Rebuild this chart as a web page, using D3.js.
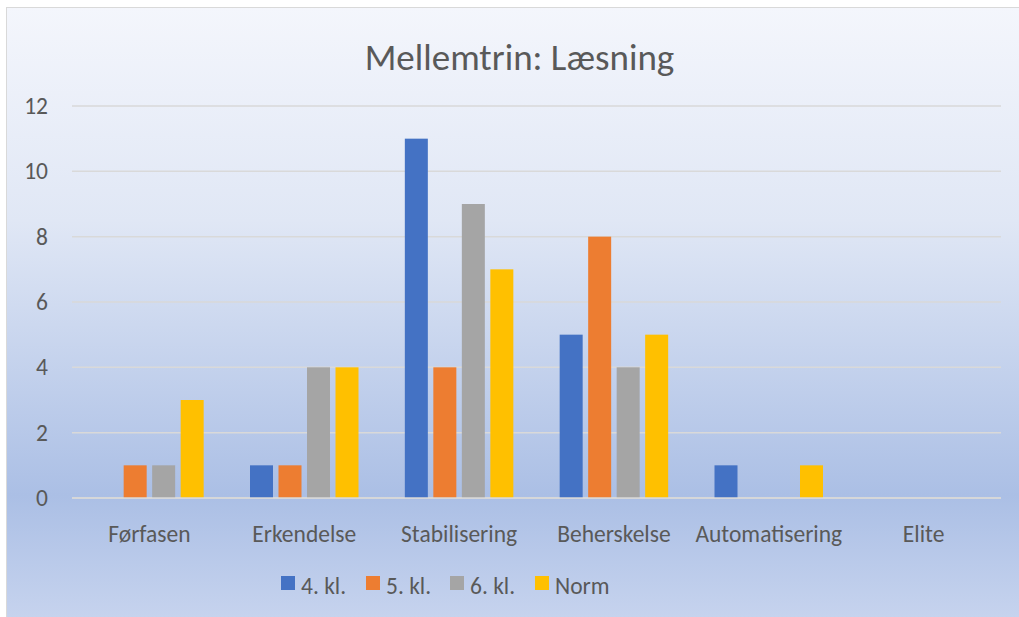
<!DOCTYPE html>
<html><head><meta charset="utf-8">
<script src="https://cdn.jsdelivr.net/npm/d3@7"></script>
<style>html,body{margin:0;padding:0;background:#fff;}svg{display:block;}</style>
</head><body>
<svg id="c" width="1019" height="617"></svg>
<script>
const categories = ["Førfasen","Erkendelse","Stabilisering","Beherskelse","Automatisering","Elite"];
const seriesNames = ["4. kl.","5. kl.","6. kl.","Norm"];
const kl4 = [0,1,11,5,1,0];
const kl5 = [1,1,4,8,0,0];
const kl6 = [1,4,9,4,0,0];
const norm = [3,4,7,5,1,0];
const colors = ["#4472c4","#ed7d31","#a5a5a5","#ffc000"];
const yTicks = [0,2,4,6,8,10,12];
const chartTitle = "Mellemtrin: Læsning";
const seriesValues = [kl4,kl5,kl6,norm];

(function(){
const svg = d3.select("#c");
const W = 1019, H = 617;
const defs = svg.append("defs");
const g = defs.append("linearGradient").attr("id","bg").attr("x1",0).attr("y1",0).attr("x2",0).attr("y2",1);
[[0,"#f4f6fc"],[0.35,"#e0e7f5"],[0.8,"#abbfe5"],[1,"#c6d3ee"]].forEach(s=>g.append("stop").attr("offset",s[0]).attr("stop-color",s[1]));
svg.append("rect").attr("x",6.5).attr("y",7.5).attr("width",W-6).attr("height",H-7).attr("fill","url(#bg)").attr("stroke","#d9d9d9").attr("stroke-width",1);

const font = "Calibri, Carlito, 'Open Sans', sans-serif";
const fs = 23.5;
const pL = 72, pR = 1001, pT = 106, pB = 498;
const y = d3.scaleLinear().domain([0,12]).range([pB, pT]);
const x0 = d3.scaleBand().domain(categories).range([pL, pR]).paddingInner(0).paddingOuter(0);
const groupW = 108.5;
const x1 = d3.scaleBand().domain(seriesNames).range([0, groupW]).paddingInner(0.193).paddingOuter(0);
const off = (x0.bandwidth() - groupW)/2;

svg.append("g").selectAll("line").data(yTicks).join("line")
  .attr("x1",pL).attr("x2",pR).attr("y1",d=>y(d)).attr("y2",d=>y(d))
  .attr("stroke","#d9d9d9").attr("stroke-width",1.5);

const yAxis = d3.axisLeft(y).tickValues(yTicks).tickSize(0).tickPadding(0);
const ya = svg.append("g").attr("transform",`translate(48,0)`).call(yAxis);
ya.select(".domain").remove();
ya.selectAll("text").attr("font-family",font).attr("font-size",fs).attr("fill","#595959");

const rows = [];
categories.forEach((c,i)=>seriesNames.forEach((s,j)=>rows.push({c,s,v:seriesValues[j][i],col:colors[j]})));
svg.append("g").selectAll("rect").data(rows.filter(d=>d.v>0)).join("rect")
  .attr("x",d=>x0(d.c)+off+x1(d.s)).attr("width",x1.bandwidth())
  .attr("y",d=>y(d.v)).attr("height",d=>y(0)-y(d.v)).attr("fill",d=>d.col);

svg.append("line").attr("x1",pL).attr("x2",pR).attr("y1",y(0)).attr("y2",y(0)).attr("stroke","#d9d9d9").attr("stroke-width",1.5);

const xAxis = d3.axisBottom(x0).tickSize(0).tickPadding(0);
const xa = svg.append("g").attr("transform",`translate(0,542)`).call(xAxis);
xa.select(".domain").remove();
xa.selectAll("text").attr("font-family",font).attr("font-size",fs).attr("fill","#595959").attr("dy",0);

svg.append("text").attr("x",519.5).attr("y",70).attr("text-anchor","middle")
  .attr("font-family",font).attr("font-size",37).attr("fill","#595959").text(chartTitle);

const legX = [281,366,450,535];
const lg = svg.append("g").selectAll("g").data(seriesNames).join("g").attr("transform",(d,i)=>`translate(${legX[i]},576)`);
lg.append("rect").attr("width",14).attr("height",14).attr("fill",(d,i)=>colors[i]);
lg.append("text").attr("x",20).attr("y",18).attr("font-family",font).attr("font-size",fs).attr("fill","#595959").text(d=>d);
})();
</script>
</body></html>
